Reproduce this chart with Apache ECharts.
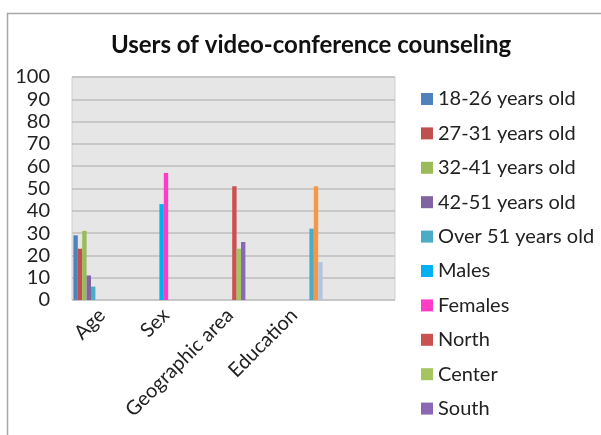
<!DOCTYPE html>
<html>
<head>
<meta charset="utf-8">
<script src="https://cdn.jsdelivr.net/npm/echarts@6/dist/echarts.min.js"></script>
<style>
  html, body { margin: 0; padding: 0; background: #ffffff; }
  #chart { width: 601px; height: 435px; }
</style>
</head>
<body>
<div id="chart"></div>
<script>
// Groups along the x axis (the last slot is left empty on purpose)
const categories = ['Age', 'Sex', 'Geographic area', 'Education', ''];

// Y axis ticks
const yTicks = { min: 0, max: 100, step: 10 };

// Each respondent group belongs to exactly one category
const seriesNames = [
  '18-26 years old', '27-31 years old', '32-41 years old', '42-51 years old', 'Over 51 years old',
  'Males', 'Females',
  'North', 'Center', 'South',
  'High school', 'University', 'Postgraduate'
];
const seriesCategory = [0, 0, 0, 0, 0, 1, 1, 2, 2, 2, 3, 3, 3];
const seriesValues   = [29, 23, 31, 11, 6, 43, 57, 51, 23, 26, 32, 51, 17];
const seriesColors = [
  '#4F81BD', '#C0504D', '#9BBB59', '#8064A2', '#4BACC6',
  '#00B0F0', '#FF3CC8',
  '#C9514F', '#A4C55F', '#8A68B4',
  '#4BACC6', '#F79646', '#B3C3E2'
];
// Entries shown in the legend column
const legendNames = seriesNames.slice(0, 10);

const FONT = 'Lato, "Open Sans", sans-serif';

const series = seriesNames.map((name, i) => {
  const data = categories.map((c, k) => (k === seriesCategory[i] ? seriesValues[i] : null));
  return {
    name: name,
    type: 'bar',
    xAxisIndex: 0,
    yAxisIndex: 0,
    data: data,
    barWidth: 4.4,
    barGap: '0%',
    itemStyle: { color: seriesColors[i] }
  };
});

const chart = echarts.init(document.getElementById('chart'), null, { renderer: 'canvas' });
chart.setOption({
  animation: false,
  backgroundColor: '#ffffff',
  title: {
    text: 'Users of video-conference counseling',
    left: 306,
    textAlign: 'center',
    top: 28,
    textStyle: { fontFamily: FONT, fontSize: 24, fontWeight: 'bold', color: '#111' }
  },
  graphic: [{
    type: 'rect',
    shape: { x: 7.5, y: 13.5, width: 620, height: 450 },
    style: { fill: 'none', stroke: '#a8a8a8', lineWidth: 1.5 },
    silent: true,
    z: -1
  }, {
    type: 'rect',
    shape: { x: 72, y: 77, width: 323, height: 223 },
    style: { fill: '#E6E6E6', stroke: '#d0d0d0', lineWidth: 1 },
    silent: true,
    z: -1
  }],
  legend: {
    data: legendNames,
    orient: 'vertical',
    left: 416,
    top: 82,
    itemWidth: 12,
    itemHeight: 12,
    itemGap: 10.4,
    icon: 'rect',
    textStyle: { fontFamily: FONT, fontSize: 20, color: '#222', lineHeight: 24, padding: [0, 0, 0, 0] }
  },
  grid: [
    // bars
    { left: 70, top: 77, width: 320, height: 223, containLabel: false },
    // value scale and gridlines across the shaded plot area
    { left: 72, top: 77, width: 323, height: 223, containLabel: false }
  ],
  xAxis: [{
    type: 'category',
    gridIndex: 0,
    data: categories,
    axisLine: { show: false },
    axisTick: { show: false },
    axisLabel: {
      interval: 0,
      rotate: 45,
      margin: 12,
      fontFamily: FONT,
      fontSize: 20,
      color: '#222'
    }
  }, {
    type: 'category',
    gridIndex: 1,
    data: categories,
    show: false
  }],
  yAxis: [{
    type: 'value',
    gridIndex: 0,
    min: yTicks.min,
    max: yTicks.max,
    interval: yTicks.step,
    show: false
  }, {
    type: 'value',
    gridIndex: 1,
    min: yTicks.min,
    max: yTicks.max,
    interval: yTicks.step,
    axisLine: { show: false },
    axisTick: { show: false },
    splitLine: { lineStyle: { color: '#BEBEBE', width: 1.5 } },
    axisLabel: { margin: 22, fontFamily: FONT, fontSize: 20, color: '#222' }
  }],
  series: series
});
</script>
</body>
</html>
